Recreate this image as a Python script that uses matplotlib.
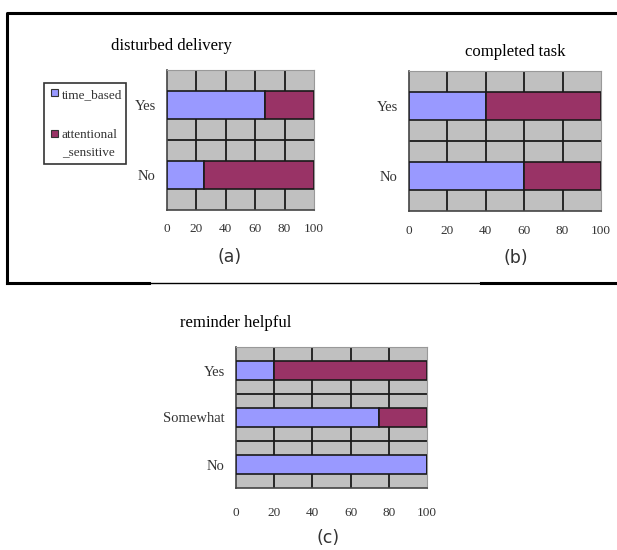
import matplotlib
matplotlib.use("Agg")
from matplotlib import pyplot as plt
from matplotlib.lines import Line2D
from matplotlib.patches import Rectangle

# data (percent)
cats_ab = ["No", "Yes"]
disturbed_time = [25, 67]
disturbed_attn = [75, 33]
completed_time = [60, 40]
completed_attn = [40, 60]

cats_c = ["No", "Somewhat", "Yes"]
helpful_time = [100, 75, 20]
helpful_attn = [0, 25, 80]

xticks = [0, 20, 40, 60, 80, 100]
series_names = ["time_based", "attentional\n_sensitive"]

c_time = "#9999FF"; c_attn = "#993366"; c_bg = "#C0C0C0"
serif = "Liberation Serif"

fig = plt.figure(figsize=(6.17, 5.5), dpi=100)
W, H = 617, 550

def px_axes(x0, y0, x1, y1):
    return fig.add_axes([x0 / W, 1 - y1 / H, (x1 - x0) / W, (y1 - y0) / H])

def panel(ax, cats, tvals, avals, title, tx, ty, lab, lx, ly, xpad=9):
    y = range(len(cats))
    ax.set_facecolor(c_bg)
    ax.barh(y, tvals, height=0.4, color=c_time, edgecolor="#1a1a1a", linewidth=1.2, zorder=3)
    ax.barh(y, avals, left=tvals, height=0.4, color=c_attn, edgecolor="#1a1a1a", linewidth=1.2, zorder=3)
    ax.set_xlim(0, 100); ax.set_ylim(-0.5, len(cats) - 0.5)
    for v in xticks[1:-1]:
        ax.axvline(v, color="#1a1a1a", lw=1.3, zorder=1)
    for i in range(len(cats) - 1):
        ax.axhline(i + 0.5, color="#1a1a1a", lw=1.3, zorder=1)
    ax.set_yticks(list(y)); ax.set_yticklabels(cats, fontfamily=serif, fontsize=10.5, color="#333333")
    ax.set_xticks(xticks); ax.set_xticklabels([str(v) for v in xticks], fontfamily=serif, fontsize=9.5, color="#333333")
    ax.tick_params(length=0, pad=8)
    ax.tick_params(axis="x", pad=xpad)
    for s in ["top", "right"]:
        ax.spines[s].set_color("#999999")
    for s in ["left", "bottom"]:
        ax.spines[s].set_color("#444444"); ax.spines[s].set_linewidth(1.2)
    fig.text(tx / W, 1 - ty / H, title, fontfamily=serif, fontsize=12, ha="center", va="center")
    fig.text(lx / W, 1 - ly / H, lab, fontsize=12.5, ha="center", va="center", color="#333333")

ax_a = px_axes(167, 70, 314, 210)
panel(ax_a, cats_ab, disturbed_time, disturbed_attn, "disturbed delivery", 171, 46, "(a)", 230, 257)
ax_b = px_axes(409, 71, 601, 211)
panel(ax_b, cats_ab, completed_time, completed_attn, "completed task", 515, 52, "(b)", 516, 258, xpad=10)
ax_c = px_axes(236, 347, 427, 488)
panel(ax_c, cats_c, helpful_time, helpful_attn, "reminder helpful", 236, 323, "(c)", 328, 538, xpad=14)

# legend box, drawn by hand like the original
fig.patches.append(Rectangle((44 / W, 1 - 164 / H), 82 / W, 81 / H, transform=fig.transFigure,
                             facecolor="white", edgecolor="#333333", lw=1.2))
for (yy, col) in [(92, c_time), (133.5, c_attn)]:
    fig.patches.append(Rectangle((51 / W, 1 - (yy + 3.5) / H), 7 / W, 7 / H, transform=fig.transFigure,
                                 facecolor=col, edgecolor="#333333", lw=0.8))
fig.text(62 / W, 1 - 95 / H, series_names[0], fontfamily=serif, fontsize=9.5, va="center", color="#333333")
fig.text(62 / W, 1 - 135 / H, series_names[1].split("\n")[0], fontfamily=serif, fontsize=9.5, va="center", color="#333333")
fig.text(62 / W, 1 - 152 / H, series_names[1].split("\n")[1], fontfamily=serif, fontsize=9.5, va="center", color="#333333")

# outer frame around (a) and (b)
def pxline(xs, ys, lw):
    fig.lines.append(Line2D([x / W for x in xs], [1 - y / H for y in ys], transform=fig.transFigure,
                            color="black", lw=lw))
pxline([7, 7, 617], [283, 13, 13], 2.2)
pxline([7, 149], [283, 283], 2.2)
pxline([149, 481], [283, 283], 1.0)
pxline([481, 617], [283, 283], 2.2)

fig.savefig("out.png", dpi=100)
